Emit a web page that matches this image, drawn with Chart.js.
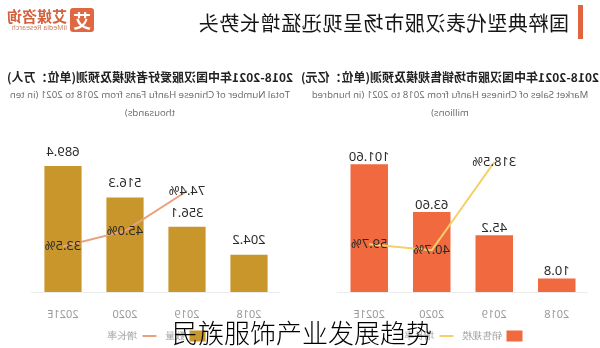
<!DOCTYPE html>
<html>
<head>
<meta charset="utf-8">
<script src="https://cdn.jsdelivr.net/npm/chart.js@4.4.0/dist/chart.umd.min.js"></script>
<style>
  html, body { margin: 0; padding: 0; width: 600px; height: 348px; overflow: hidden; background: #fff; }
  body { font-family: "Noto Sans CJK SC", "Noto Sans", sans-serif; position: relative; }
  /* the whole board is shown flipped left-to-right */
  #page { position: absolute; left: 0; top: 0; width: 600px; height: 348px; transform: scaleX(-1); }
  .bar-mark { position: absolute; left: 17px; top: 5px; width: 5px; height: 34px; background: #E0653F; }
  .headline { position: absolute; left: 31px; top: 9px; font-size: 20px; line-height: 28px; color: #151515; letter-spacing: 0.6px; white-space: nowrap; }
  .logo-icon { position: absolute; left: 506px; top: 8px; width: 24px; height: 24px; border-radius: 3px; background: #DF6843; color: #fff; font-size: 18px; font-weight: bold; line-height: 24px; text-align: center; }
  .logo-text { position: absolute; left: 533px; top: 8px; color: #D4613D; white-space: nowrap; }
  .logo-text .cn { font-size: 15px; font-weight: bold; line-height: 16px; }
  .logo-text .en { font-size: 7px; line-height: 8px; color: #C77A5E; font-family: "Open Sans", sans-serif; }
  .sub { position: absolute; top: 68px; width: 300px; text-align: center; }
  .sub .cn { font-size: 12px; font-weight: bold; color: #222; line-height: 18px; white-space: nowrap; }
  .sub .en { font-size: 9.6px; color: #666; line-height: 18px; font-family: "Open Sans", sans-serif; white-space: nowrap; }
  canvas { position: absolute; top: 125px; }
  .caption { position: absolute; left: 2px; width: 600px; top: 315px; text-align: center; font-size: 26px; line-height: 34px; color: #000; font-weight: 300; }
</style>
</head>
<body>
<div id="page">
  <div class="bar-mark"></div>
  <div class="headline">国粹典型代表汉服市场呈现迅猛增长势头</div>
  <div class="logo-icon">艾</div>
  <div class="logo-text"><div class="cn">艾媒咨询</div><div class="en">iiMedia Research</div></div>

  <div class="sub" style="left:0">
    <div class="cn">2018-2021年中国汉服市场销售规模及预测(单位：亿元)</div>
    <div class="en">Market Sales of Chinese Hanfu from 2018 to 2021 (in hundred<br>millions)</div>
  </div>
  <div class="sub" style="left:300px">
    <div class="cn">2018-2021年中国汉服爱好者规模及预测(单位：万人)</div>
    <div class="en">Total Number of Chinese Hanfu Fans from 2018 to 2021 (in ten<br>thousands)</div>
  </div>

  <canvas id="sales-chart" width="300" height="226" style="left:0"></canvas>
  <canvas id="fans-chart" width="300" height="226" style="left:300px"></canvas>
</div>
<div class="caption">民族服饰产业发展趋势</div>

<script>
// categories
const years = ['2018', '2019', '2020', '2021E'];

// hanfu fans (ten thousands) and yearly growth (%)
const fansValues = [204.2, 356.1, 516.3, 689.4];
const fansGrowth = [null, 74.4, 45.0, 33.5];

// market sales (hundred millions) and yearly growth (%)
const salesValues = [10.8, 45.2, 63.6, 101.6];
const salesDecimals = [1, 1, 2, 2];
const salesGrowth = [null, 318.5, 40.7, 59.7];

// writes the number above each bar and the rate on each line point
const valueLabels = {
    id: 'valueLabels',
    afterDatasetsDraw(chart, args, opts) {
        const ctx = chart.ctx;
        ctx.save();
        ctx.font = '13px "Noto Sans", sans-serif';
        ctx.fillStyle = '#2b2b2b';
        ctx.textAlign = 'center';
        ctx.textBaseline = 'middle';
        chart.data.datasets.forEach((ds, di) => {
            const meta = chart.getDatasetMeta(di);
            const texts = di === 0 ? opts.barText : opts.lineText;
            meta.data.forEach((el, i) => {
                if (ds.data[i] === null) return;
                if (di === 0) {
                    ctx.fillText(texts[i], el.x, el.y - opts.barGap);
                } else {
                    ctx.fillText(texts[i], el.x, el.y);
                }
            });
        });
        ctx.restore();
    }
};

function makeChart(id, cfg) {
    return new Chart(document.getElementById(id), {
        type: 'bar',
        data: {
            labels: years,
            datasets: [{
                type: 'bar',
                label: cfg.barName,
                data: cfg.bars,
                backgroundColor: cfg.barColor,
                barPercentage: 0.6,
                categoryPercentage: 1,
                yAxisID: 'y',
                order: 1
            }, {
                type: 'line',
                label: '增长率',
                data: cfg.rates,
                borderColor: cfg.lineColor,
                backgroundColor: cfg.lineColor,
                borderWidth: 2,
                pointRadius: 0,
                tension: 0,
                yAxisID: 'y1',
                order: 0
            }]
        },
        options: {
            responsive: false,
            animation: false,
            layout: {
                padding: { left: cfg.padLeft, right: cfg.padRight, top: 15, bottom: 0 }
            },
            scales: {
                x: {
                    grid: { display: false },
                    border: { color: '#ececec' },
                    ticks: { color: '#9a9a9a', padding: 8, font: { size: 11, family: '"Noto Sans", sans-serif' } },
                    // keep the year row tight so the legend sits right under it
                    afterFit(scale) { scale.height = 30; }
                },
                y: { display: false, min: 0, max: cfg.barMax },
                y1: { display: false, min: cfg.rateMin, max: cfg.rateMax }
            },
            plugins: {
                tooltip: { enabled: false },
                legend: {
                    position: 'bottom',
                    labels: {
                        color: '#a0a0a0',
                        font: { size: 10 },
                        padding: 9,
                        boxWidth: 10,
                        boxHeight: 9,
                        usePointStyle: true,
                        pointStyleWidth: 14,
                        generateLabels(chart) {
                            return chart.data.datasets.map((ds, i) => ({
                                text: ds.label,
                                fillStyle: i === 0 ? cfg.barColor : cfg.lineColor,
                                strokeStyle: i === 0 ? cfg.barColor : cfg.lineColor,
                                lineWidth: 2,
                                pointStyle: i === 0 ? 'rect' : 'line',
                                fontColor: '#a0a0a0',
                                datasetIndex: i
                            }));
                        }
                    }
                },
                valueLabels: {
                    barText: cfg.barText,
                    lineText: cfg.rates.map(v => v === null ? '' : v.toFixed(1) + '%'),
                    barGap: cfg.barGap
                }
            }
        },
        plugins: [valueLabels]
    });
}

makeChart('sales-chart', {
    barName: '销售规模',
    bars: salesValues,
    barText: salesValues.map((v, i) => v.toFixed(salesDecimals[i])),
    rates: salesGrowth,
    barColor: '#F1693F',
    lineColor: '#F4D06A',
    barMax: 121,
    rateMin: -91,
    rateMax: 388,
    barGap: 7,
    padLeft: 12,
    padRight: 38
});

makeChart('fans-chart', {
    barName: '数量',
    bars: fansValues,
    barText: fansValues.map(v => v.toFixed(1)),
    rates: fansGrowth,
    barColor: '#C8962A',
    lineColor: '#E9A07C',
    barMax: 831,
    rateMin: 0,
    rateMax: 112,
    barGap: 14,
    padLeft: 20,
    padRight: 32
});
</script>
</body>
</html>
